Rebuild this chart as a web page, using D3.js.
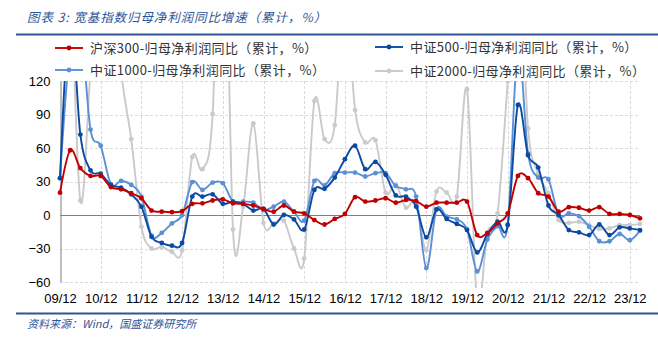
<!DOCTYPE html>
<html>
<head>
<meta charset="utf-8">
<script src="https://cdn.jsdelivr.net/npm/d3@7"></script>
<style>
  html, body { margin: 0; padding: 0; background: #fff; }
  svg { display: block; }
</style>
</head>
<body>
<svg id="chart" width="658" height="343"></svg>
<script>
// Quarterly cumulative reporting periods (yy/mm)
const categories = [
  "09/12",
  "10/03","10/06","10/09","10/12",
  "11/03","11/06","11/09","11/12",
  "12/03","12/06","12/09","12/12",
  "13/03","13/06","13/09","13/12",
  "14/03","14/06","14/09","14/12",
  "15/03","15/06","15/09","15/12",
  "16/03","16/06","16/09","16/12",
  "17/03","17/06","17/09","17/12",
  "18/03","18/06","18/09","18/12",
  "19/03","19/06","19/09","19/12",
  "20/03","20/06","20/09","20/12",
  "21/03","21/06","21/09","21/12",
  "22/03","22/06","22/09","22/12",
  "23/03","23/06","23/09","23/12",
  "24/03"
];

// Year-end labels shown on the category axis
const tickLabels = ["09/12","10/12","11/12","12/12","13/12","14/12","15/12","16/12",
                    "17/12","18/12","19/12","20/12","21/12","22/12","23/12"];

const yTicks = [120, 90, 60, 30, 0, -30, -60];

// Net profit attributable to parent, YoY (cumulative, %)
const hs300 = [20, 58, 42, 35, 35, 25, 23, 19.5, 15, 4, 3, 2.5, 3.5, 10, 10.5, 13, 14, 10.5, 10, 8.5,
  5.5, 3, 8.5, 3, 1.5, -4.5, -8.5, -3.5, 1, 16, 12, 13, 15, 11, 13.5, 12.5, 7.5, 11, 11, 11,
  12, -18, -16, -7.5, 1.5, 35, 33, 19.5, 16.5, 3, 7, 6.5, 4, 7, 1, 1, 0, -3];

const zz500 = [33, 180, 72, 40, 37, 27, 24.5, 18.5, 7.5, -19.5, -25, -27.5, -25, 16.5, 16.5, 18.5, 10, 12, 10, 4,
  5.5, -8.5, 0, -4, -13, 22.5, 23.5, 33.5, 50, 62, 41, 47.5, 36, 17.5, 16.5, 7.5, -20, 5, -3.5, -8,
  -13.5, -33.5, -17, -6, -9, 98.5, 53.5, 42.5, 8.5, 0, -13.5, -15.5, -18, -8.5, -18, -11, -12, -13.5];

const zz1000 = [33, 150, 170, 76.5, 62, 27.5, 30.5, 27, 16.5, -18.5, -16, -7.5, 0, 29.5, 22.5, 29, 28.5, 12, 12, 11,
  4.5, 7.5, 12, 3, -5, 30.5, 26.5, 37.5, 38, 38, 34.5, 37.5, 37.5, 26, 23, 16.5, -47.5, 5, -1.5, -4,
  -13, -50.5, -22, -10, -8.5, 150, 55, 33.5, 32, 0, 1.5, -1, -10.5, -23.5, -23.5, -17, -22.5, -14];

const zz2000 = [null, 250, 13, 130, 250, 250, 130, 68, -10.5, -30, -28.5, -33, -31.5, 52, 41, 90.5, 350, -13, 7.5, 82,
  -7, -7.5, -5, -30, -39, 102, 68, 80.5, 200, 94, 65, 67, 20, 27, 6.5, 12, -31.5, 21, 20, 16.5,
  112.5, -80, -16.5, 1.5, 120, 250, 77.5, 37, 19.5, -4.5, -7, -6, -9, -12.5, -12, -9, -9, -8];

const seriesNames = [
  "沪深300-归母净利润同比（累计，%）",
  "中证500-归母净利润同比（累计，%）",
  "中证1000-归母净利润同比（累计，%）",
  "中证2000-归母净利润同比（累计，%）"
];

const colors = {
  hs300: "#C00000",
  zz500: "#0B4AA2",
  zz1000: "#5B8FD6",
  zz2000: "#CACACA"
};

const svg = d3.select("#chart");
const plot = { left: 60, right: 640, top: 81, bottom: 282 };

const x = d3.scalePoint().domain(categories).range([plot.left, plot.right]);
const y = d3.scaleLinear().domain([-60, 120]).range([plot.bottom, plot.top]);

// Title
svg.append("text")
  .attr("x", 27).attr("y", 22)
  .attr("font-family", "'Noto Sans CJK SC', sans-serif")
  .attr("font-size", 12.5)
  .attr("letter-spacing", 0.9)
  .attr("font-style", "italic")
  .attr("fill", "#2F5597")
  .text("图表 3:  宽基指数归母净利润同比增速（累计，%）");

svg.append("line")
  .attr("x1", 16).attr("x2", 658).attr("y1", 34.5).attr("y2", 34.5)
  .attr("stroke", "#2F5597").attr("stroke-width", 2);

// Gridlines
const grid = svg.append("g");
grid.selectAll("line.h")
  .data(yTicks.filter(d => d !== 0))
  .join("line")
  .attr("x1", plot.left).attr("x2", plot.right)
  .attr("y1", d => Math.round(y(d)) + 0.5).attr("y2", d => Math.round(y(d)) + 0.5)
  .attr("stroke", "#D9D9D9").attr("stroke-dasharray", "3,2");

grid.selectAll("line.v")
  .data(tickLabels.slice(1))
  .join("line")
  .attr("x1", d => Math.round(x(d)) + 0.5).attr("x2", d => Math.round(x(d)) + 0.5)
  .attr("y1", plot.top).attr("y2", plot.bottom)
  .attr("stroke", "#D9D9D9").attr("stroke-dasharray", "3,2");

// Y axis
const yAxis = d3.axisLeft(y).tickValues(yTicks).tickSize(0).tickPadding(10);
const yg = svg.append("g").attr("transform", `translate(${plot.left + 0.5},0)`).call(yAxis);
yg.select(".domain").attr("stroke", "#808080");
yg.selectAll("text")
  .attr("font-family", "'Liberation Sans', Arial, sans-serif")
  .attr("font-size", 13).attr("fill", "#000");

// Zero line
svg.append("line")
  .attr("x1", plot.left).attr("x2", plot.right)
  .attr("y1", Math.round(y(0)) + 0.5).attr("y2", Math.round(y(0)) + 0.5)
  .attr("stroke", "#808080").attr("stroke-width", 1);

// X axis labels
const xAxis = d3.axisBottom(x).tickValues(tickLabels).tickSize(0).tickPadding(12);
const xg = svg.append("g").attr("transform", `translate(0,${plot.bottom})`).call(xAxis);
xg.select(".domain").remove();
xg.selectAll("text")
  .attr("font-family", "'Liberation Sans', Arial, sans-serif")
  .attr("font-size", 13).attr("fill", "#000");

// Series
svg.append("clipPath").attr("id", "plotClip")
  .append("rect")
  .attr("x", plot.left - 4).attr("y", plot.top)
  .attr("width", plot.right - plot.left + 8).attr("height", plot.bottom - plot.top + 6);

const lineGen = d3.line()
  .defined(d => d.v !== null)
  .x(d => x(d.c))
  .y(d => y(d.v))
  .curve(d3.curveCardinal.tension(0));

const series = [
  { key: "zz2000", values: zz2000 },
  { key: "zz1000", values: zz1000 },
  { key: "zz500", values: zz500 },
  { key: "hs300", values: hs300 }
];

const lines = svg.append("g").attr("clip-path", "url(#plotClip)");
series.forEach(s => {
  const pts = s.values.map((v, i) => ({ c: categories[i], v }));
  const g = lines.append("g");
  g.append("path")
    .datum(pts)
    .attr("d", lineGen)
    .attr("fill", "none")
    .attr("stroke", colors[s.key])
    .attr("stroke-width", 1.9);
  g.selectAll("circle")
    .data(pts.filter(d => d.v !== null))
    .join("circle")
    .attr("cx", d => x(d.c)).attr("cy", d => y(d.v))
    .attr("r", 2.4)
    .attr("fill", colors[s.key]);
});

// Legend
const legendItems = [
  { name: seriesNames[0], key: "hs300", x: 55, y: 48 },
  { name: seriesNames[1], key: "zz500", x: 375, y: 47 },
  { name: seriesNames[2], key: "zz1000", x: 55, y: 70 },
  { name: seriesNames[3], key: "zz2000", x: 375, y: 71 }
];
const lg = svg.append("g");
legendItems.forEach(it => {
  const g = lg.append("g");
  g.append("rect")
    .attr("x", it.x - 2).attr("y", it.y - 8)
    .attr("width", 262).attr("height", 16)
    .attr("fill", "#fff");
  g.append("line")
    .attr("x1", it.x).attr("x2", it.x + 28)
    .attr("y1", it.y).attr("y2", it.y)
    .attr("stroke", colors[it.key]).attr("stroke-width", 1.9);
  g.append("circle")
    .attr("cx", it.x + 14).attr("cy", it.y).attr("r", 2.4)
    .attr("fill", colors[it.key]);
  g.append("text")
    .attr("x", it.x + 35).attr("y", it.y)
    .attr("dy", "0.35em")
    .attr("font-family", "'Noto Sans CJK SC', sans-serif")
    .attr("font-size", 13)
    .attr("letter-spacing", 0.4)
    .attr("fill", "#333")
    .text(it.name);
});

// Footer
svg.append("line")
  .attr("x1", 16).attr("x2", 658).attr("y1", 313.5).attr("y2", 313.5)
  .attr("stroke", "#2F5597").attr("stroke-width", 2);

svg.append("text")
  .attr("x", 27).attr("y", 328)
  .attr("font-family", "'Noto Sans CJK SC', sans-serif")
  .attr("font-size", 11)
  .attr("font-style", "italic")
  .attr("fill", "#2F5597")
  .text("资料来源：Wind，国盛证券研究所");
</script>
</body>
</html>
